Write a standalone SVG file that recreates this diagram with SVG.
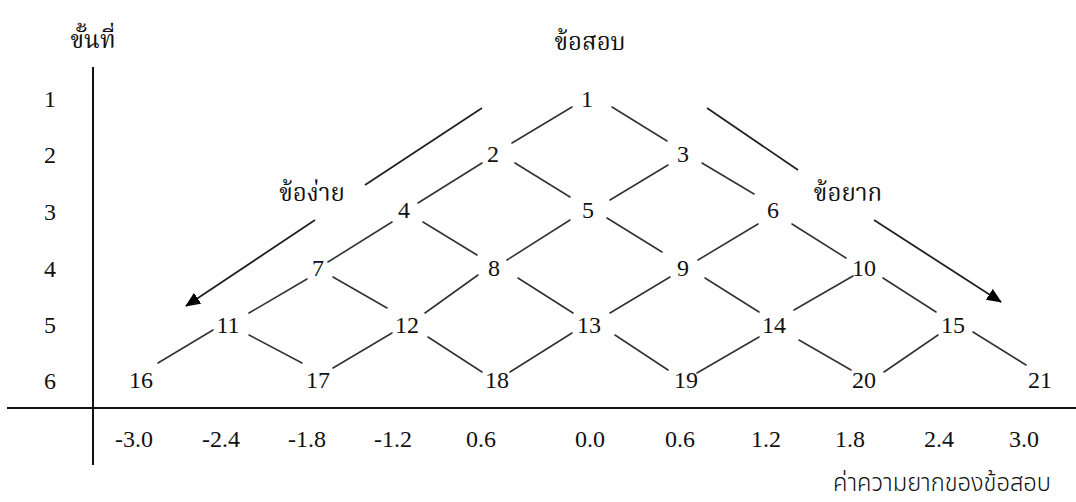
<svg xmlns="http://www.w3.org/2000/svg" width="1076" height="502" viewBox="0 0 1076 502">
<style>
  .num { font-family: "Liberation Serif", "Times New Roman", serif; font-size: 24px; fill: #111; text-anchor: middle; }
  .th { font-family: "Noto Serif Thai", "Noto Sans Thai", "Noto Sans Thai Looped", "Noto Sans", "DejaVu Sans", sans-serif; font-size: 24px; fill: #111; text-anchor: middle; }
  .cap { font-family: "Noto Sans Thai", "Noto Sans Thai Looped", "Noto Sans", "DejaVu Sans", sans-serif; font-size: 24px; font-weight: 300; fill: #111; }
  .link { stroke: #333; stroke-width: 1.6; fill: none; stroke-linecap: round; }
  .axis { stroke: #111; stroke-width: 2; fill: none; }
  .arrow { stroke: #222; stroke-width: 1.8; fill: none; }
</style>
<defs>
  <marker id="head" markerUnits="userSpaceOnUse" markerWidth="16" markerHeight="14" refX="14" refY="6.5" orient="auto">
    <path d="M0,0 L15,6.5 L0,13 z" fill="#000"/>
  </marker>
</defs>
<rect width="1076" height="502" fill="#fff"/>

<g id="axes">
  <line class="axis" x1="93" y1="67" x2="93" y2="465"/>
  <line class="axis" x1="7" y1="408" x2="1076" y2="408"/>
</g>

<g id="headers">
  <text class="th" x="93" y="48">ขั้นที่</text>
  <text class="th" x="590" y="50">ข้อสอบ</text>
  <text class="th" x="312" y="201">ข้อง่าย</text>
  <text class="th" x="848" y="201">ข้อยาก</text>
  <text class="cap" x="833" y="491" textLength="218" lengthAdjust="spacingAndGlyphs">ค่าความยากของข้อสอบ</text>
</g>

<g id="row-labels">
  <text class="num" x="50" y="107">1</text>
  <text class="num" x="50" y="163">2</text>
  <text class="num" x="50" y="220">3</text>
  <text class="num" x="50" y="277">4</text>
  <text class="num" x="50" y="333">5</text>
  <text class="num" x="50" y="389">6</text>
</g>

<g id="axis-labels">
  <text class="num" x="134" y="447">-3.0</text>
  <text class="num" x="221" y="447">-2.4</text>
  <text class="num" x="307" y="447">-1.8</text>
  <text class="num" x="393" y="447">-1.2</text>
  <text class="num" x="481" y="447">0.6</text>
  <text class="num" x="590" y="447">0.0</text>
  <text class="num" x="680" y="447">0.6</text>
  <text class="num" x="766" y="447">1.2</text>
  <text class="num" x="850" y="447">1.8</text>
  <text class="num" x="939" y="447">2.4</text>
  <text class="num" x="1024" y="447">3.0</text>
</g>

<g id="connectors">
  <line class="link" x1="572" y1="107" x2="512" y2="143"/>
  <line class="link" x1="612" y1="107" x2="667" y2="141"/>
  <line class="link" x1="482" y1="163" x2="418" y2="203"/>
  <line class="link" x1="515" y1="163" x2="570" y2="197"/>
  <line class="link" x1="668" y1="165" x2="610" y2="200"/>
  <line class="link" x1="702" y1="163" x2="754" y2="194"/>
  <line class="link" x1="392" y1="222" x2="328" y2="262"/>
  <line class="link" x1="423" y1="222" x2="477" y2="255"/>
  <line class="link" x1="570" y1="220" x2="507" y2="260"/>
  <line class="link" x1="607" y1="218" x2="662" y2="252"/>
  <line class="link" x1="758" y1="224" x2="698" y2="260"/>
  <line class="link" x1="792" y1="224" x2="846" y2="258"/>
  <line class="link" x1="307" y1="279" x2="249" y2="313"/>
  <line class="link" x1="333" y1="277" x2="387" y2="308"/>
  <line class="link" x1="478" y1="275" x2="425" y2="313"/>
  <line class="link" x1="518" y1="278" x2="573" y2="313"/>
  <line class="link" x1="670" y1="277" x2="610" y2="313"/>
  <line class="link" x1="705" y1="278" x2="759" y2="312"/>
  <line class="link" x1="853" y1="276" x2="794" y2="310"/>
  <line class="link" x1="883" y1="278" x2="936" y2="312"/>
  <line class="link" x1="213" y1="330" x2="158" y2="363"/>
  <line class="link" x1="249" y1="335" x2="302" y2="363"/>
  <line class="link" x1="392" y1="333" x2="333" y2="368"/>
  <line class="link" x1="428" y1="337" x2="482" y2="372"/>
  <line class="link" x1="572" y1="333" x2="510" y2="372"/>
  <line class="link" x1="615" y1="335" x2="668" y2="370"/>
  <line class="link" x1="759" y1="337" x2="697" y2="373"/>
  <line class="link" x1="799" y1="340" x2="851" y2="370"/>
  <line class="link" x1="938" y1="335" x2="884" y2="372"/>
  <line class="link" x1="973" y1="332" x2="1026" y2="365"/>
  <line class="arrow" x1="482" y1="108" x2="365" y2="185"/>
  <line class="arrow" x1="315" y1="220" x2="186" y2="306" marker-end="url(#head)"/>
  <line class="arrow" x1="707" y1="108" x2="798" y2="170"/>
  <line class="arrow" x1="874" y1="220" x2="1001" y2="302" marker-end="url(#head)"/>
</g>

<g id="n1"><text class="num" x="587" y="107">1</text></g>
<g id="n2"><text class="num" x="493" y="162">2</text></g>
<g id="n3"><text class="num" x="683" y="162">3</text></g>
<g id="n4"><text class="num" x="404" y="218">4</text></g>
<g id="n5"><text class="num" x="588" y="218">5</text></g>
<g id="n6"><text class="num" x="773" y="218">6</text></g>
<g id="n7"><text class="num" x="318" y="276">7</text></g>
<g id="n8"><text class="num" x="494" y="276">8</text></g>
<g id="n9"><text class="num" x="683" y="276">9</text></g>
<g id="n10"><text class="num" x="864" y="276">10</text></g>
<g id="n11"><text class="num" x="228" y="333">11</text></g>
<g id="n12"><text class="num" x="407" y="333">12</text></g>
<g id="n13"><text class="num" x="589" y="333">13</text></g>
<g id="n14"><text class="num" x="774" y="333">14</text></g>
<g id="n15"><text class="num" x="953" y="333">15</text></g>
<g id="n16"><text class="num" x="141" y="388">16</text></g>
<g id="n17"><text class="num" x="318" y="388">17</text></g>
<g id="n18"><text class="num" x="497" y="388">18</text></g>
<g id="n19"><text class="num" x="686" y="388">19</text></g>
<g id="n20"><text class="num" x="864" y="388">20</text></g>
<g id="n21"><text class="num" x="1040" y="388">21</text></g>
</svg>
